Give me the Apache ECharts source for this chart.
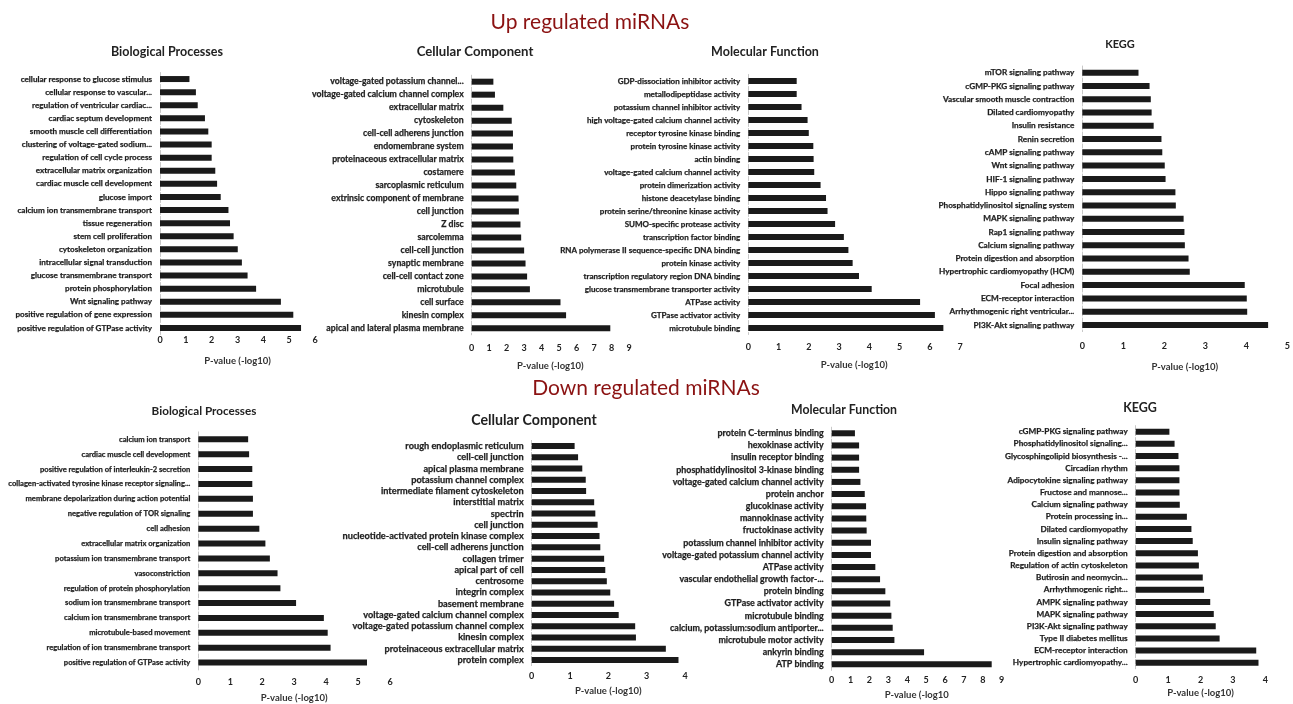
<!DOCTYPE html>
<html><head><meta charset="utf-8">
<script src="https://cdn.jsdelivr.net/npm/echarts@6/dist/echarts.min.js"></script>
<style>html,body{margin:0;padding:0;background:#fff}#c{width:1293px;height:704px}</style>
</head><body><div id="c"></div><script>
// ---------- DATA ----------
const upBPCategories = ["cellular response to glucose stimulus","cellular response to vascular...","regulation of ventricular cardiac...","cardiac septum development","smooth muscle cell differentiation","clustering of voltage-gated sodium...","regulation of cell cycle process","extracellular matrix organization","cardiac muscle cell development","glucose import","calcium ion transmembrane transport","tissue regeneration","stem cell proliferation","cytoskeleton organization","intracellular signal transduction","glucose transmembrane transport","protein phosphorylation","Wnt signaling pathway","positive regulation of gene expression","positive regulation of GTPase activity"];
const upBPValues = [1.14,1.39,1.46,1.74,1.87,2.0,2.0,2.14,2.21,2.35,2.65,2.71,2.85,3.01,3.17,3.39,3.72,4.68,5.16,5.46];

const upCCCategories = ["voltage-gated potassium channel...","voltage-gated calcium channel complex","extracellular matrix","cytoskeleton","cell-cell adherens junction","endomembrane system","proteinaceous extracellular matrix","costamere","sarcoplasmic reticulum","extrinsic component of membrane","cell junction","Z disc","sarcolemma","cell-cell junction","synaptic membrane","cell-cell contact zone","microtubule","cell surface","kinesin complex","apical and lateral plasma membrane"];
const upCCValues = [1.24,1.33,1.81,2.29,2.36,2.36,2.38,2.47,2.55,2.68,2.70,2.79,2.83,3.0,3.08,3.17,3.33,5.08,5.40,7.93];

const upMFCategories = ["GDP-dissociation inhibitor activity","metallodipeptidase activity","potassium channel inhibitor activity","high voltage-gated calcium channel activity","receptor tyrosine kinase binding","protein tyrosine kinase activity","actin binding","voltage-gated calcium channel activity","protein dimerization activity","histone deacetylase binding","protein serine/threonine kinase activity","SUMO-specific protease activity","transcription factor binding","RNA polymerase II sequence-specific DNA binding","protein kinase activity","transcription regulatory region DNA binding","glucose transmembrane transporter activity","ATPase activity","GTPase activator activity","microtubule binding"];
const upMFValues = [1.60,1.60,1.76,1.96,2.0,2.15,2.16,2.18,2.39,2.57,2.62,2.87,3.16,3.31,3.45,3.66,4.08,5.68,6.17,6.45];

const upKEGGCategories = ["mTOR signaling pathway","cGMP-PKG signaling pathway","Vascular smooth muscle contraction","Dilated cardiomyopathy","Insulin resistance","Renin secretion","cAMP signaling pathway","Wnt signaling pathway","HIF-1 signaling pathway","Hippo signaling pathway","Phosphatidylinositol signaling system","MAPK signaling pathway","Rap1 signaling pathway","Calcium signaling pathway","Protein digestion and absorption","Hypertrophic cardiomyopathy (HCM)","Focal adhesion","ECM-receptor interaction","Arrhythmogenic right ventricular...","PI3K-Akt signaling pathway"];
const upKEGGValues = [1.37,1.64,1.67,1.69,1.74,1.93,1.95,2.01,2.03,2.27,2.28,2.47,2.49,2.50,2.59,2.62,3.96,4.01,4.02,4.53];

const downBPCategories = ["calcium ion transport","cardiac muscle cell development","positive regulation of interleukin-2 secretion","collagen-activated tyrosine kinase receptor signaling...","membrane depolarization during action potential","negative regulation of TOR signaling","cell adhesion","extracellular matrix organization","potassium ion transmembrane transport","vasoconstriction","regulation of protein phosphorylation","sodium ion transmembrane transport","calcium ion transmembrane transport","microtubule-based movement","regulation of ion transmembrane transport","positive regulation of GTPase activity"];
const downBPValues = [1.56,1.59,1.69,1.69,1.71,1.71,1.91,2.10,2.24,2.48,2.57,3.06,3.93,4.05,4.14,5.28];

const downCCCategories = ["rough endoplasmic reticulum","cell-cell junction","apical plasma membrane","potassium channel complex","intermediate filament cytoskeleton","interstitial matrix","spectrin","cell junction","nucleotide-activated protein kinase complex","cell-cell adherens junction","collagen trimer","apical part of cell","centrosome","integrin complex","basement membrane","voltage-gated calcium channel complex","voltage-gated potassium channel complex","kinesin complex","proteinaceous extracellular matrix","protein complex"];
const downCCValues = [1.12,1.21,1.32,1.41,1.42,1.63,1.66,1.72,1.77,1.79,1.89,1.92,1.96,2.05,2.15,2.27,2.70,2.72,3.50,3.83];

const downMFCategories = ["protein C-terminus binding","hexokinase activity","insulin receptor binding","phosphatidylinositol 3-kinase binding","voltage-gated calcium channel activity","protein anchor","glucokinase activity","mannokinase activity","fructokinase activity","potassium channel inhibitor activity","voltage-gated potassium channel activity","ATPase activity","vascular endothelial growth factor-...","protein binding","GTPase activator activity","microtubule binding","calcium, potassium:sodium antiporter...","microtubule motor activity","ankyrin binding","ATP binding"];
const downMFValues = [1.23,1.45,1.45,1.45,1.52,1.75,1.82,1.83,1.85,2.08,2.08,2.31,2.56,2.84,3.10,3.16,3.23,3.32,4.89,8.47];

const downKEGGCategories = ["cGMP-PKG signaling pathway","Phosphatidylinositol signaling...","Glycosphingolipid biosynthesis -...","Circadian rhythm","Adipocytokine signaling pathway","Fructose and mannose...","Calcium signaling pathway","Protein processing in...","Dilated cardiomyopathy","Insulin signaling pathway","Protein digestion and absorption","Regulation of actin cytoskeleton","Butirosin and neomycin...","Arrhythmogenic right...","AMPK signaling pathway","MAPK signaling pathway","PI3K-Akt signaling pathway","Type II diabetes mellitus","ECM-receptor interaction","Hypertrophic cardiomyopathy..."];
const downKEGGValues = [1.04,1.20,1.32,1.35,1.35,1.35,1.36,1.58,1.72,1.76,1.92,1.95,2.07,2.11,2.30,2.41,2.47,2.59,3.72,3.79];

const panelTitles = ["Biological Processes","Cellular Component","Molecular Function","KEGG","Biological Processes","Cellular Component","Molecular Function","KEGG"];
const axisNames = ["P-value (-log10)","P-value (-log10)","P-value (-log10)","P-value (-log10)","P-value (-log10)","P-value (-log10)","P-value (-log10","P-value (-log10)"];
const axisMax = [6,9,7,5,6,4,9,4];
const sectionTitles = ["Up regulated miRNAs","Down regulated miRNAs"];

// ---------- LAYOUT ----------
const panels = [
  {cats: upBPCategories, vals: upBPValues, left:160, width:155, top:72.5, height:262, tx:167, ty:52, tf:12.5, lf:8.1, lm:1, ng:21.5},
  {cats: upCCCategories, vals: upCCValues, left:471.7, width:157.3, top:75.2, height:259.6, tx:475, ty:52, tf:13.2, lf:8.7, lm:9, ng:26},
  {cats: upMFCategories, vals: upMFValues, left:748.3, width:211.7, top:74.5, height:260, tx:765, ty:52, tf:12.5, lf:8.0, lm:8, ng:25.5},
  {cats: upKEGGCategories, vals: upKEGGValues, left:1082.3, width:207.5, top:66, height:265.6, tx:1120, ty:44, tf:11, lf:8.2, lm:10, ng:30},
  {cats: downBPCategories, vals: downBPValues, left:198.3, width:191.7, top:431.9, height:238.3, tx:204, ty:411, tf:11.7, lf:7.6, lm:8, ng:23},
  {cats: downCCCategories, vals: downCCValues, left:531.7, width:153.3, top:440.4, height:225.2, tx:534, ty:420, tf:14.2, lf:9.2, lm:6, ng:20.5},
  {cats: downMFCategories, vals: downMFValues, left:831.7, width:170, top:427.2, height:243.2, tx:844, ty:410, tf:12.3, lf:8.9, lm:5, ng:20},
  {cats: downKEGGCategories, vals: downKEGGValues, left:1135.7, width:129.6, top:425.6, height:243.2, tx:1140, ty:408, tf:12.5, lf:8.2, lm:7, ng:19}
];

const FONT = 'Lato, "Open Sans", sans-serif';
const grid = [], xAxis = [], yAxis = [], series = [], graphic = [];
panels.forEach((p, i) => {
  grid.push({left:p.left, top:p.top, width:p.width, height:p.height, containLabel:false});
  xAxis.push({
    type:'value', gridIndex:i, min:0, max:axisMax[i], interval:1,
    axisLine:{show:false}, axisTick:{show:false}, splitLine:{show:false},
    axisLabel:{fontSize:9, fontWeight:'bold', color:'#222', margin:p.lm, fontFamily:FONT},
    name:axisNames[i], nameLocation:'middle', nameGap:p.ng,
    nameTextStyle:{fontSize:9.5, fontWeight:'bold', color:'#333', fontFamily:FONT}
  });
  yAxis.push({
    type:'category', gridIndex:i, data:p.cats, inverse:true,
    axisTick:{show:false},
    axisLine:{show:true, lineStyle:{type:'dashed', color:'#c8c8c8', width:1}},
    axisLabel:{fontSize:p.lf, fontWeight:'bold', color:'#1e1e1e', margin:8, fontFamily:FONT, interval:0,
      textBorderColor:'#1e1e1e', textBorderWidth:0.25}
  });
  series.push({
    type:'bar', xAxisIndex:i, yAxisIndex:i, data:p.vals, barWidth:6,
    itemStyle:{color:'#1a1a1a'}, silent:true
  });
  graphic.push({type:'text', x:p.tx, y:p.ty, silent:true,
    style:{text:panelTitles[i], align:'center', verticalAlign:'middle', textAlign:'center', textVerticalAlign:'middle',
      font:'bold ' + p.tf + 'px ' + FONT, fill:'#222'}});
});
graphic.push({type:'text', x:590, y:22, silent:true,
  style:{text:sectionTitles[0], align:'center', verticalAlign:'middle', textAlign:'center', textVerticalAlign:'middle',
    font:'21px ' + FONT, fill:'#8b1212'}});
graphic.push({type:'text', x:646, y:388, silent:true,
  style:{text:sectionTitles[1], align:'center', verticalAlign:'middle', textAlign:'center', textVerticalAlign:'middle',
    font:'21px ' + FONT, fill:'#8b1212'}});

const chart = echarts.init(document.getElementById('c'), null, {renderer:'canvas'});
chart.setOption({animation:false, backgroundColor:'#fff', grid, xAxis, yAxis, series, graphic});
</script></body></html>
